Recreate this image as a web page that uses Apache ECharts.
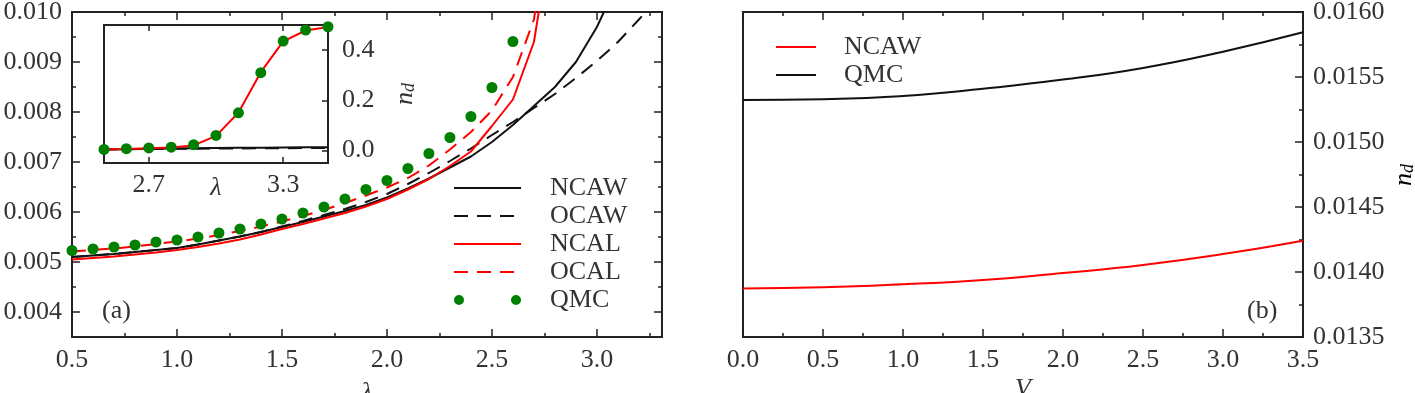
<!DOCTYPE html>
<html>
<head>
<meta charset="utf-8">
<title>n_d versus lambda and V</title>
<script src="https://cdn.jsdelivr.net/npm/echarts@6.0.0/dist/echarts.min.js"></script>
<style>
html, body { margin: 0; padding: 0; background: #fff; }
#main { width: 1415px; height: 393px; }
</style>
</head>
<body>
<div id="main"></div>
<script>
// ---- panel (a) : n_d against lambda ----
var lam = [0.5, 0.6, 0.7, 0.8, 0.9, 1.0, 1.1, 1.2, 1.3, 1.4, 1.5, 1.6, 1.7, 1.8, 1.9,
           2.0, 2.1, 2.2, 2.3, 2.4, 2.5, 2.6, 2.7, 2.8, 2.9, 3.0, 3.1, 3.2, 3.3];
var ncaw = [0.00510, 0.00513, 0.00516, 0.00520, 0.00524, 0.00528, 0.00535, 0.00543, 0.00551, 0.00560,
            0.00570, 0.00580, 0.00591, 0.00602, 0.00614, 0.00629, 0.00647, 0.00667, 0.00689, 0.00711,
            0.00740, 0.00774, 0.00812, 0.00850, 0.00900, 0.00970, 0.01060];
var ocaw = [0.00510, 0.00513, 0.00516, 0.00520, 0.00524, 0.00528, 0.00535, 0.00543, 0.00551, 0.00560,
            0.00571, 0.00582, 0.00594, 0.00606, 0.00620, 0.00636, 0.00656, 0.00678, 0.00702, 0.00727,
            0.00754, 0.00780, 0.00808, 0.00836, 0.00868, 0.00902, 0.00940, 0.00985, 0.01030];
var ncal = [0.00505, 0.00508, 0.00511, 0.00515, 0.00519, 0.00524, 0.00530, 0.00537, 0.00545, 0.00555,
            0.00566, 0.00576, 0.00587, 0.00598, 0.00611, 0.00626, 0.00645, 0.00666, 0.00692, 0.00721,
            0.00772, 0.00825, 0.00940, 0.01200];
var ocal = [0.00521, 0.00524, 0.00527, 0.00531, 0.00536, 0.00541, 0.00547, 0.00554, 0.00562, 0.00571,
            0.00581, 0.00592, 0.00604, 0.00618, 0.00633, 0.00649, 0.00668, 0.00693, 0.00725, 0.00760,
            0.00803, 0.00870, 0.00985, 0.01250];
var qmcLam = [0.5, 0.6, 0.7, 0.8, 0.9, 1.0, 1.1, 1.2, 1.3, 1.4, 1.5, 1.6, 1.7, 1.8, 1.9,
              2.0, 2.1, 2.2, 2.3, 2.4, 2.5, 2.6];
var qmc = [0.00523, 0.00526, 0.00530, 0.00534, 0.00540, 0.00544, 0.00550, 0.00558, 0.00566, 0.00576,
           0.00586, 0.00598, 0.00610, 0.00626, 0.00645, 0.00663, 0.00687, 0.00717, 0.00749, 0.00791,
           0.00849, 0.00941];

// inset of panel (a)
var insetLam = [2.5, 2.6, 2.7, 2.8, 2.9, 3.0, 3.1, 3.2, 3.3, 3.4, 3.5];
var insetQmc  = [0.004, 0.007, 0.010, 0.013, 0.023, 0.060, 0.150, 0.310, 0.436, 0.480, 0.493];
var insetNcal = [0.004, 0.006, 0.009, 0.012, 0.020, 0.058, 0.150, 0.312, 0.435, 0.478, 0.492];
var insetNcaw = [0.004, 0.005, 0.0065, 0.0075, 0.0085, 0.0097, 0.0105, 0.011, 0.012, 0.0125, 0.013];
var insetOcaw = [0.004, 0.005, 0.006, 0.0065, 0.007, 0.0075, 0.008, 0.0085, 0.009, 0.0095, 0.010];

// ---- panel (b) : n_d against V ----
var vals = [0, 0.5, 1.0, 1.5, 2.0, 2.5, 3.0, 3.5];
var ncawB = [0.013874, 0.013882, 0.013905, 0.013938, 0.013992, 0.014054, 0.014138, 0.014241];
var qmcB  = [0.015323, 0.015328, 0.015354, 0.015410, 0.015480, 0.015570, 0.015695, 0.015844];

// tick positions / labels
var aXTicks = [0.5, 1.0, 1.5, 2.0, 2.5, 3.0];
var aXMinor = [0.75, 1.25, 1.75, 2.25, 2.75, 3.25];
var aYTicks = [0.004, 0.005, 0.006, 0.007, 0.008, 0.009, 0.010];
var aYMinor = [0.0045, 0.0055, 0.0065, 0.0075, 0.0085, 0.0095];
var inXTicks = [2.7, 3.3];
var inYTicks = [0.0, 0.2, 0.4];
var bXTicks = [0, 0.5, 1.0, 1.5, 2.0, 2.5, 3.0, 3.5];
var bXMinor = [0.25, 0.75, 1.25, 1.75, 2.25, 2.75, 3.25];
var bYTicks = [0.0135, 0.0140, 0.0145, 0.0150, 0.0155, 0.0160];
var bYMinor = [0.01375, 0.01425, 0.01475, 0.01525, 0.01575];

var FONT = 'Liberation Serif';
var INK = '#222';
var TXT = '#333';
var RED = '#ff0000';
var BLK = '#111';
var GRN = '#008000';

var ndRich = {
  n: { fontFamily: FONT, fontSize: 26, fontStyle: 'italic', color: TXT },
  d: { fontFamily: FONT, fontSize: 18, fontStyle: 'italic', color: TXT, verticalAlign: 'bottom' }
};

function pairs(xs, ys) {
  return ys.map(function (y, i) { return [xs[i], y]; });
}

function ax(grid, pos, min, max, ticks, len, labels, digits) {
  return {
    type: 'value', gridIndex: grid, position: pos, min: min, max: max,
    axisLine: { show: false, onZero: false },
    splitLine: { show: false },
    axisTick: { show: true, inside: true, length: len, customValues: ticks,
                lineStyle: { color: INK, width: 1.5 } },
    axisLabel: { show: !!labels, customValues: labels || [], margin: 10,
                 color: TXT, fontFamily: FONT, fontSize: 26,
                 formatter: function (v) { return Number(v).toFixed(digits || 1); } }
  };
}

function named(axis, name, gap, rich) {
  axis.name = name;
  axis.nameLocation = 'middle';
  axis.nameGap = gap;
  axis.nameMoveOverlap = false;
  axis.nameTextStyle = { color: TXT, fontFamily: FONT, fontSize: 26, fontStyle: 'italic' };
  if (rich) axis.nameTextStyle.rich = ndRich;
  return axis;
}

var xAxes = [
  named(ax(0, 'bottom', 0.5, 3.31, aXTicks, 8, aXTicks, 1), 'λ', 43),   // 0
  ax(0, 'bottom', 0.5, 3.31, aXMinor, 4),                               // 1
  ax(0, 'top', 0.5, 3.31, aXTicks, 8),                                  // 2
  ax(0, 'top', 0.5, 3.31, aXMinor, 4),                                  // 3
  named(ax(1, 'bottom', 2.5, 3.5, inXTicks, 6, inXTicks, 1), 'λ', 12),  // 4 inset
  ax(1, 'top', 2.5, 3.5, inXTicks, 6),                                  // 5
  named(ax(2, 'bottom', 0, 3.5, bXTicks, 8, bXTicks, 1), 'V', 39),      // 6
  ax(2, 'bottom', 0, 3.5, bXMinor, 4),                                  // 7
  ax(2, 'top', 0, 3.5, bXTicks, 8),                                     // 8
  ax(2, 'top', 0, 3.5, bXMinor, 4)                                      // 9
];
xAxes[4].axisLabel.margin = 9;

var yAxes = [
  ax(0, 'left', 0.0035, 0.010, aYTicks, 8, aYTicks, 3),                 // 0
  ax(0, 'left', 0.0035, 0.010, aYMinor, 4),                             // 1
  ax(0, 'right', 0.0035, 0.010, aYTicks, 8),                            // 2
  ax(0, 'right', 0.0035, 0.010, aYMinor, 4),                            // 3
  named(ax(1, 'right', -0.05, 0.5, inYTicks, 6, inYTicks, 1), '{n|n}{d|d}', 64, true), // 4 inset
  ax(1, 'left', -0.05, 0.5, [], 0),                                     // 5
  ax(2, 'right', 0.0135, 0.016, bYTicks, 8, bYTicks, 4),                // 6
  ax(2, 'right', 0.0135, 0.016, bYMinor, 4),                            // 7
  ax(2, 'left', 0.0135, 0.016, [], 0)                                   // 8
];
yAxes[4].axisLabel.margin = 14;

function line(name, xi, yi, data, color, dashed) {
  return {
    name: name, type: 'line', xAxisIndex: xi, yAxisIndex: yi, data: data,
    symbol: 'none', clip: true, color: color,
    lineStyle: { color: color, width: 2, type: dashed ? [14, 9] : 'solid' }
  };
}

function dots(name, xi, yi, data) {
  return {
    name: name, type: 'scatter', xAxisIndex: xi, yAxisIndex: yi, data: data,
    symbol: 'circle', symbolSize: 11, color: GRN, itemStyle: { color: GRN, opacity: 1 }, z: 4
  };
}

var frame = { show: true, borderColor: INK, borderWidth: 2, containLabel: false, outerBoundsMode: 'none' };
var qmcIcon = 'path://M0,5A5,5,0,1,1,10,5A5,5,0,1,1,0,5ZM57,5A5,5,0,1,1,67,5A5,5,0,1,1,57,5Z';

var option = {
  animation: false,
  backgroundColor: '#fff',
  grid: [
    Object.assign({ left: 72, top: 12, width: 590, height: 325, backgroundColor: 'transparent' }, frame),
    Object.assign({ left: 104, top: 25, width: 224, height: 138, backgroundColor: '#fff' }, frame),
    Object.assign({ left: 743, top: 12, width: 560, height: 325, backgroundColor: 'transparent' }, frame)
  ],
  xAxis: xAxes,
  yAxis: yAxes,
  legend: [
    {
      data: ['NCAW', 'OCAW', 'NCAL', 'OCAL',
             { name: 'QMC', icon: qmcIcon, itemStyle: { opacity: 1 } }],
      orient: 'vertical', left: 448, top: 169,
      itemWidth: 67, itemHeight: 14, itemGap: 0, selectedMode: false,
      itemStyle: { opacity: 0 },
      textStyle: { fontFamily: FONT, fontSize: 26, color: TXT, lineHeight: 28, padding: [0, 0, 0, 24] }
    },
    {
      data: ['NCAW-b', 'QMC-b'],
      formatter: function (n) { return n.replace('-b', ''); },
      orient: 'vertical', left: 770, top: 28,
      itemWidth: 40, itemHeight: 14, itemGap: 0, selectedMode: false,
      itemStyle: { opacity: 0 },
      textStyle: { fontFamily: FONT, fontSize: 26, color: TXT, lineHeight: 28, padding: [0, 0, 0, 23] }
    }
  ],
  graphic: [
    { type: 'text', left: 102, top: 298, style: { text: '(a)', font: '26px "Liberation Serif"', fill: TXT } },
    { type: 'text', left: 1247, top: 298, style: { text: '(b)', font: '26px "Liberation Serif"', fill: TXT } },
    // y-axis title of panel (b), sits against the right edge of the canvas
    { type: 'text', x: 1404, y: 175, rotation: Math.PI / 2,
      style: { text: '{n|n}{d|d}', rich: ndRich, align: 'center', verticalAlign: 'middle' } }
  ],
  series: [
    line('NCAW', 0, 0, pairs(lam, ncaw), BLK, false),
    line('OCAW', 0, 0, pairs(lam, ocaw), BLK, true),
    line('NCAL', 0, 0, pairs(lam, ncal), RED, false),
    line('OCAL', 0, 0, pairs(lam, ocal), RED, true),
    dots('QMC', 0, 0, pairs(qmcLam, qmc)),

    line('NCAW inset', 4, 4, pairs(insetLam, insetNcaw), BLK, false),
    line('OCAW inset', 4, 4, pairs(insetLam, insetOcaw), BLK, true),
    line('NCAL inset', 4, 4, pairs(insetLam, insetNcal), RED, false),
    dots('QMC inset', 4, 4, pairs(insetLam, insetQmc)),

    Object.assign(line('NCAW-b', 6, 6, pairs(vals, ncawB), RED, false), { smooth: true }),
    Object.assign(line('QMC-b', 6, 6, pairs(vals, qmcB), BLK, false), { smooth: true })
  ]
};

var chart = echarts.init(document.getElementById('main'));
chart.setOption(option);
window.addEventListener('resize', function () { chart.resize(); });
</script>
</body>
</html>
